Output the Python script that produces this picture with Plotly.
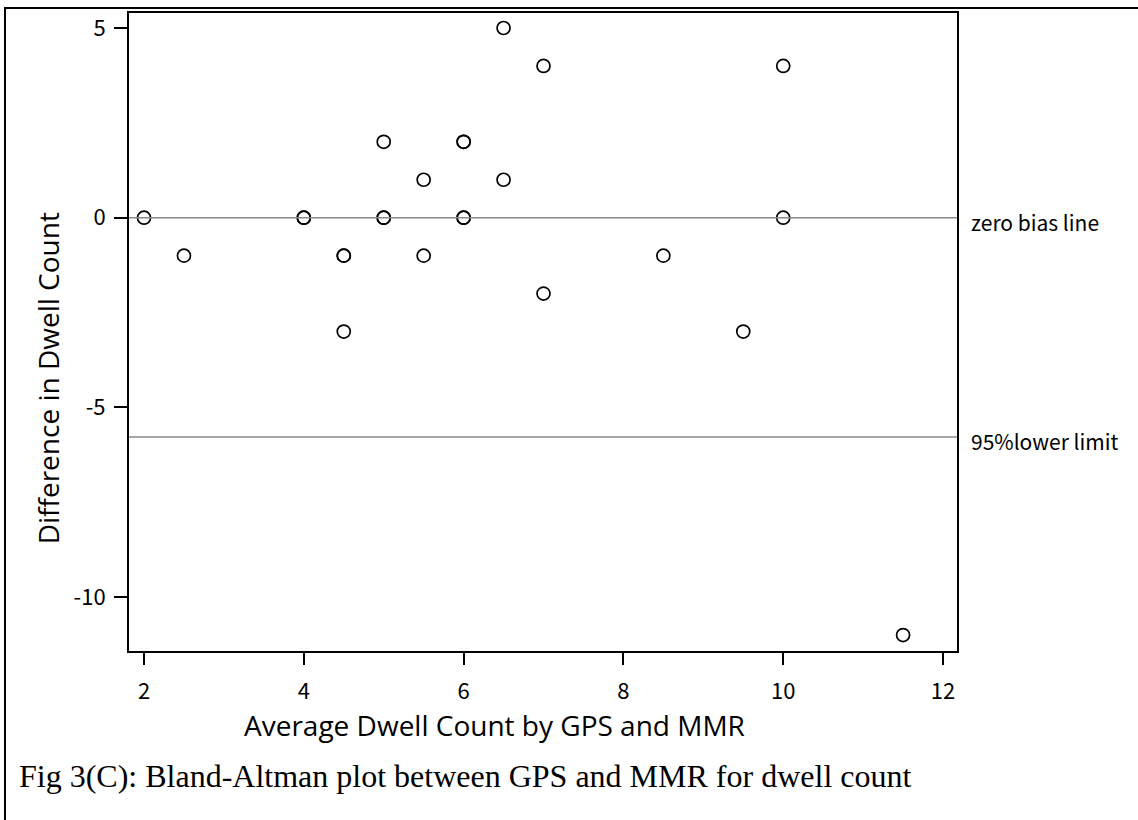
import plotly.graph_objects as go

avg_count = [2, 2.5, 4, 4, 4.5, 4.5, 4.5, 5, 5, 5, 5.5, 5.5, 6, 6, 6, 6, 6.5, 6.5, 7, 7, 8.5, 9.5, 10, 10, 11.5]
diff_count = [0, -1, 0, 0, -1, -1, -3, 2, 0, 0, 1, -1, 2, 2, 0, 0, 5, 1, 4, -2, -1, -3, 4, 0, -11]
zero_bias = 0
lower_limit = -5.78
x_ticks = [2, 4, 6, 8, 10, 12]
y_ticks = [5, 0, -5, -10]
y_tick_text = ["5", "0", "-5", "-10"]

tick_font = dict(family="Noto Sans CJK JP", size=22, color="black")
note_font = dict(family="Noto Sans CJK JP", size=21, color="black")

# plot-area pixel geometry
L, R, T, B = 129, 957, 10, 651
W, H = R - L, B - T


def px(x):
    return (x - L) / W


def py(y):
    return (B - y) / H


fig = go.Figure()
fig.add_trace(go.Scatter(
    x=avg_count, y=diff_count, mode="markers",
    marker=dict(symbol="circle-open", size=13, color="black", line=dict(width=1.7)),
    showlegend=False, hoverinfo="x+y"))

for yv in [zero_bias, lower_limit]:
    fig.add_shape(type="line", xref="paper", yref="y", x0=0, x1=1, y0=yv, y1=yv,
                  line=dict(color="#8a8a8a", width=1.6))

fig.add_annotation(x=1.0, xref="paper", xshift=12, y=zero_bias, yref="y", yshift=-4,
                   text="zero bias line", showarrow=False, xanchor="left", yanchor="middle",
                   font=note_font)
fig.add_annotation(x=1.0, xref="paper", xshift=12, y=lower_limit, yref="y", yshift=-4,
                   text="95%lower limit", showarrow=False, xanchor="left", yanchor="middle",
                   font=note_font)

fig.add_annotation(x=px(494), xref="paper", y=py(725), yref="paper",
                   text="Average Dwell Count by GPS and MMR", showarrow=False,
                   xanchor="center", yanchor="middle",
                   font=dict(family="Open Sans", size=28, color="black"))
fig.add_annotation(x=px(48), xref="paper", y=py(377), yref="paper",
                   text="Difference in Dwell Count", showarrow=False, textangle=-90,
                   xanchor="center", yanchor="middle",
                   font=dict(family="Open Sans", size=28, color="black"))
fig.add_annotation(x=px(17), xref="paper", y=py(777), yref="paper",
                   text="Fig 3(C): Bland-Altman plot between GPS and MMR for dwell count",
                   showarrow=False, xanchor="left", yanchor="middle",
                   font=dict(family="Liberation Serif", size=32, color="black"))

# outer frame lines
fig.add_shape(type="line", xref="paper", yref="paper",
              x0=px(4), x1=px(1140), y0=py(5), y1=py(5),
              line=dict(color="black", width=2))
fig.add_shape(type="line", xref="paper", yref="paper",
              x0=px(5), x1=px(5), y0=py(4), y1=py(830),
              line=dict(color="black", width=2))

fig.update_layout(
    width=1138, height=820,
    margin=dict(l=L, r=1138 - R, t=T, b=820 - B),
    paper_bgcolor="white", plot_bgcolor="white",
    xaxis=dict(range=[1.812, 12.175], tickvals=x_ticks, ticks="outside", ticklen=12,
               tickwidth=1.5, tickcolor="black", showline=True, linecolor="black", linewidth=2,
               mirror=True, showgrid=False, zeroline=False, tickfont=tick_font,
               ticklabelstandoff=8),
    yaxis=dict(range=[-11.42, 5.395], tickvals=y_ticks, ticktext=y_tick_text,
               ticks="outside", ticklen=13,
               tickwidth=1.5, tickcolor="black", showline=True, linecolor="black", linewidth=2,
               mirror=True, showgrid=False, zeroline=False, tickfont=tick_font,
               ticklabelstandoff=4),
)

fig.write_html("out.html")
